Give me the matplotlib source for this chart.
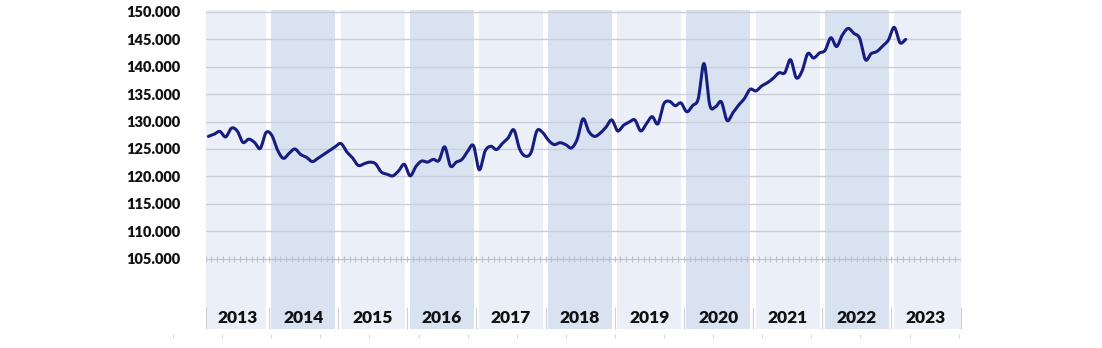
import numpy as np
import matplotlib
matplotlib.use("Agg")
import matplotlib.pyplot as plt
from matplotlib.ticker import FuncFormatter

# Year groups on the category axis (2013 starts in February)
years = [2013, 2014, 2015, 2016, 2017, 2018, 2019, 2020, 2021, 2022, 2023]
months_per_year = [11, 12, 12, 12, 12, 12, 12, 12, 12, 12, 12]

# Monthly series, Feb 2013 - Mar 2023
values = [
    127300, 127700, 128200, 127200, 128800, 128300, 126200, 126800, 126200, 125100, 128000,
    127500, 124800, 123300, 124200, 125000, 124000, 123500, 122700, 123300, 124000, 124700, 125400,
    126000, 124500, 123400, 122000, 122300, 122600, 122300, 120800, 120400, 120100, 121000, 122200,
    120100, 121800, 122800, 122600, 123100, 122900, 125400, 121900, 122600, 123100, 124600, 125600,
    121200, 124600, 125500, 124900, 126000, 127000, 128500, 125000, 123700, 124400, 128300, 128000,
    126600, 125800, 126150, 125800, 125200, 126800, 130500, 128200, 127300, 127900, 129000, 130300,
    128300, 129300, 129900, 130300, 128300, 129600, 130900, 129600, 133200, 133700, 132900, 133400,
    131800, 132900, 134200, 140600, 133000, 132700, 133600, 130200, 131600, 133000, 134200, 135900,
    135600, 136500, 137100, 137900, 138900, 138900, 141300, 138000, 139200, 142400, 141600, 142500,
    143000, 145300, 143700, 145800, 147000, 146100, 145200, 141300, 142400, 142800, 143800, 144900,
    147200, 144400, 145000,
]

y_ticks = [105000, 110000, 115000, 120000, 125000, 130000, 135000, 140000, 145000, 150000]

band_light = "#EBF0F8"
band_dark = "#D9E2F0"
grid_color = "#C9CED8"
axis_color = "#BCC2CC"
line_color = "#161C80"
text_color = "#111111"

Y_MIN, Y_MAX = 92100, 150400


def catmull_rom(x, y, steps=12):
    """Smooth curve passing through every point (uniform Catmull-Rom)."""
    x = np.asarray(x, float)
    y = np.asarray(y, float)
    px = np.concatenate([[2 * x[0] - x[1]], x, [2 * x[-1] - x[-2]]])
    py = np.concatenate([[2 * y[0] - y[1]], y, [2 * y[-1] - y[-2]]])
    t = np.linspace(0, 1, steps, endpoint=False)
    t2, t3 = t * t, t * t * t
    xs, ys = [], []
    for i in range(1, len(px) - 2):
        for p, out in ((px, xs), (py, ys)):
            p0, p1, p2, p3 = p[i - 1], p[i], p[i + 1], p[i + 2]
            out.append(0.5 * (2 * p1 + (-p0 + p2) * t
                              + (2 * p0 - 5 * p1 + 4 * p2 - p3) * t2
                              + (-p0 + 3 * p1 - 3 * p2 + p3) * t3))
    xs.append([x[-1]])
    ys.append([y[-1]])
    return np.concatenate(xs), np.concatenate(ys)


fig = plt.figure(figsize=(11.02, 3.48), dpi=100)
ax = fig.add_axes([0.18648, 0.05374, 0.68512, 0.9181])

bounds = np.concatenate([[0], np.cumsum(months_per_year)])
n_cat = bounds[-1]
ax.set_xlim(0, n_cat)
ax.set_ylim(Y_MIN, Y_MAX)

# alternating year bands
gap = 0.45
for k, yr in enumerate(years):
    left = bounds[k] + (gap if k > 0 else 0)
    right = bounds[k + 1] - (gap if k < len(years) - 1 else 0)
    ax.axvspan(left, right, color=band_light if k % 2 == 0 else band_dark,
               lw=0, zorder=0)

# horizontal gridlines
for v in y_ticks[1:]:
    ax.axhline(v, color=grid_color, lw=1.0, zorder=1)

# category axis crossing at 105.000 with month tick marks
ax.axhline(y_ticks[0], color=axis_color, lw=0.9, zorder=1)
ax.vlines(np.arange(0, n_cat + 1), y_ticks[0] - 550, y_ticks[0] + 550,
          color=axis_color, lw=0.8, zorder=1)

# monthly series
xm = np.arange(len(values)) + 0.5
sx, sy = catmull_rom(xm, values)
ax.plot(sx, sy, color=line_color, lw=2.2, solid_capstyle="round",
        solid_joinstyle="round", zorder=3)

# year labels and separators
for k, yr in enumerate(years):
    ax.text((bounds[k] + bounds[k + 1]) / 2, 94200, str(yr), ha="center",
            va="center", fontsize=12.5, fontweight="heavy", color=text_color,
            family="Lato", zorder=4)
ax.vlines(bounds, Y_MIN, 96200, color="#CDD1D7", lw=0.8, zorder=2, clip_on=False)

# faint ticks below the plot
month_px = ax.get_window_extent().width / n_cat
faint_x = (np.arange(17) * 49.1 - 32.5) / month_px
ax.vlines(faint_x, 91300, 90600, color="#D8D8D8", lw=0.8, clip_on=False)

ax.set_yticks(y_ticks)
ax.yaxis.set_major_formatter(FuncFormatter(lambda v, _: f"{int(v):,}".replace(",", ".")))
ax.set_xticks([])
ax.tick_params(axis="y", length=0, pad=18, labelsize=10.5)
for lab in ax.get_yticklabels():
    lab.set_fontweight("heavy")
    lab.set_family("Lato")
    lab.set_color(text_color)
for s in ax.spines.values():
    s.set_visible(False)

fig.savefig("out.png", dpi=100, facecolor="white")
